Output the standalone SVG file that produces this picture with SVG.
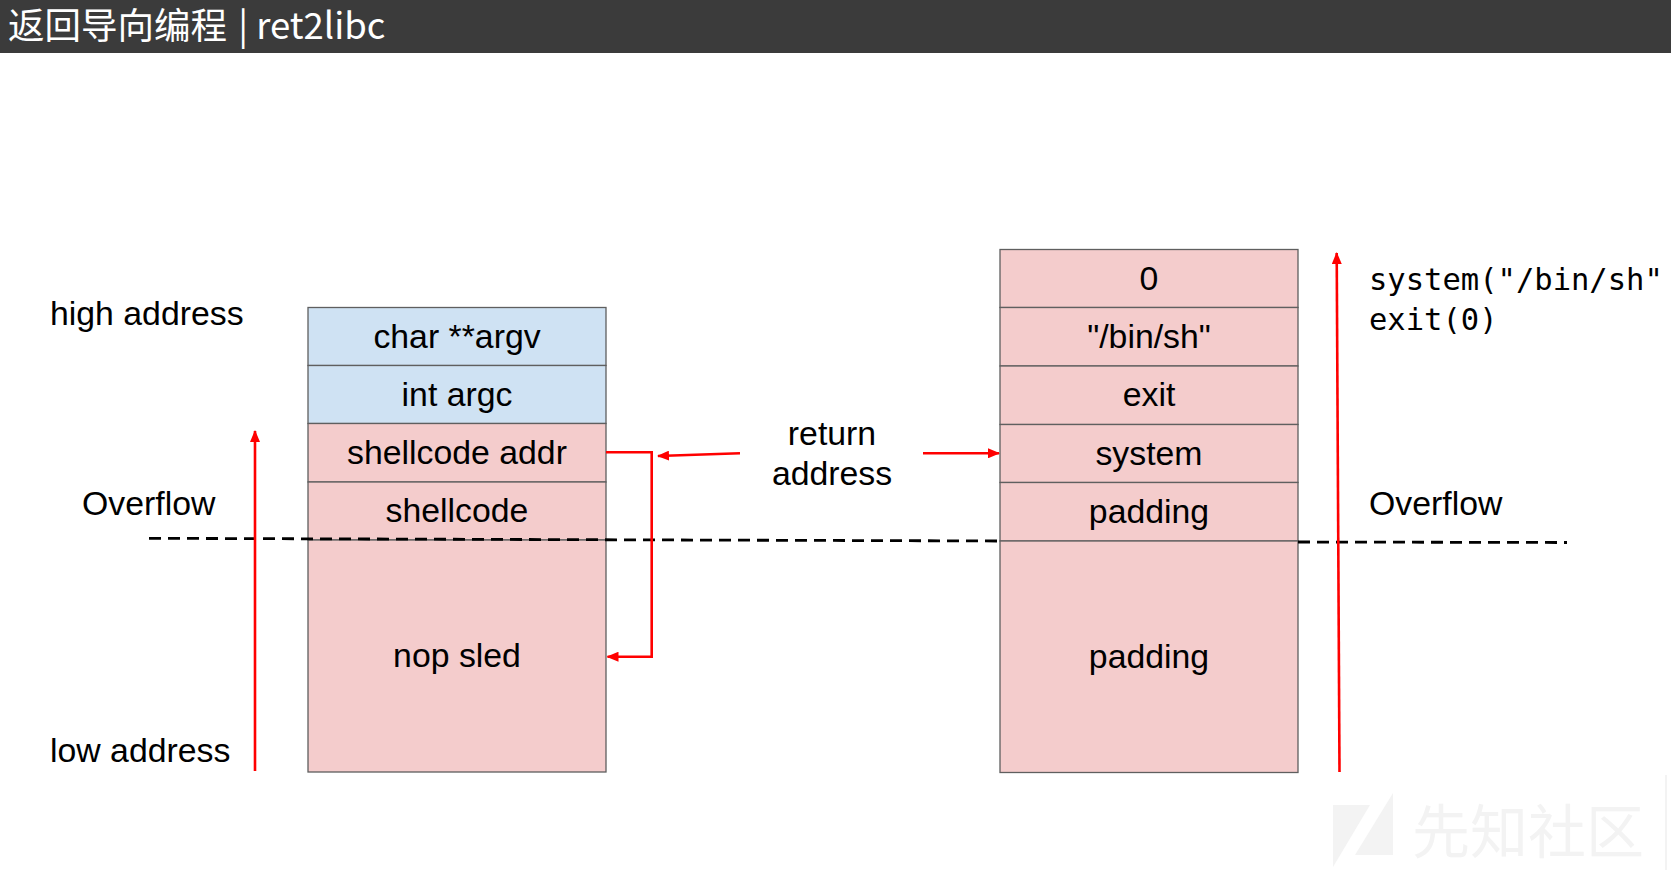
<svg xmlns="http://www.w3.org/2000/svg" width="1671" height="874" viewBox="0 0 1671 874">
<style>
.t{font-family:"Liberation Sans",Arial,sans-serif;font-size:33.8px;fill:#000}
.c{text-anchor:middle}
.m{font-family:"DejaVu Sans Mono","Liberation Mono",monospace;font-size:30.5px;fill:#000}
.blue{fill:#cfe2f3;stroke:#5f5f5f;stroke-width:1.3}
.pink{fill:#f4cccc;stroke:#5f5f5f;stroke-width:1.3}
.red{fill:none;stroke:#ff0000;stroke-width:2.6}
.dash{fill:none;stroke:#000;stroke-width:2.8;stroke-dasharray:12 7}
</style>
<defs>
<marker id="ah" markerWidth="12" markerHeight="10" refX="11" refY="5" orient="auto" markerUnits="userSpaceOnUse">
<path d="M0,0 L12,5 L0,10 Z" fill="#ff0000"/>
</marker>
</defs>
<rect x="0" y="0" width="1671" height="874" fill="#ffffff"/>
<g id="title">
<rect x="0" y="0" width="1671" height="53" fill="#3b3b3b"/>
<text x="8" y="39" style="font-family:'Noto Sans CJK SC','Noto Sans',sans-serif;font-size:36.5px;fill:#ffffff">返回导向编程 <tspan dx="3">|</tspan> ret2libc</text>
</g>
<g id="watermark" fill="#f3f3f3">
<polygon points="1333,805 1370,805 1333,867"/>
<polygon points="1393,793 1393,855 1355,855"/>
<text x="1412" y="853" style="font-family:'Noto Sans CJK SC',sans-serif;font-size:58px;fill:#f3f3f3">先知社区</text>
<rect x="1665" y="775" width="2" height="95"/>
</g>
<g id="left-labels">
<text class="t" x="50" y="325">high address</text>
<text class="t" x="82" y="515">Overflow</text>
<text class="t" x="50" y="762">low address</text>
</g>
<g id="left-stack">
<g id="argv"><rect class="blue" x="308" y="307.5" width="298" height="58"/><text class="t c" x="457" y="348">char **argv</text></g>
<g id="argc"><rect class="blue" x="308" y="365.5" width="298" height="58"/><text class="t c" x="457" y="406">int argc</text></g>
<g id="shellcode-addr"><rect class="pink" x="308" y="423.5" width="298" height="58.5"/><text class="t c" x="457" y="464">shellcode addr</text></g>
<g id="shellcode"><rect class="pink" x="308" y="482" width="298" height="58"/><text class="t c" x="457" y="522">shellcode</text></g>
<g id="nop-sled"><rect class="pink" x="308" y="540" width="298" height="232"/><text class="t c" x="457" y="667">nop sled</text></g>
</g>
<g id="return-address">
<text class="t c" x="832" y="445">return</text>
<text class="t c" x="832" y="485">address</text>
</g>
<g id="right-stack">
<g id="zero"><rect class="pink" x="1000" y="249.5" width="298" height="58"/><text class="t c" x="1149" y="290">0</text></g>
<g id="binsh"><rect class="pink" x="1000" y="307.5" width="298" height="58.5"/><text class="t c" x="1149" y="348">"/bin/sh"</text></g>
<g id="exit"><rect class="pink" x="1000" y="366" width="298" height="58.5"/><text class="t c" x="1149" y="406">exit</text></g>
<g id="system"><rect class="pink" x="1000" y="424.5" width="298" height="58"/><text class="t c" x="1149" y="465">system</text></g>
<g id="padding1"><rect class="pink" x="1000" y="482.5" width="298" height="58.5"/><text class="t c" x="1149" y="523">padding</text></g>
<g id="padding2"><rect class="pink" x="1000" y="541" width="298" height="231.5"/><text class="t c" x="1149" y="668">padding</text></g>
</g>
<g id="right-labels">
<text class="m" x="1369" y="290">system("/bin/sh"</text>
<text class="m" x="1369" y="330">exit(0)</text>
<text class="t" x="1369" y="515">Overflow</text>
</g>
<g id="connectors">
<line class="dash" x1="149" y1="538.3" x2="1000" y2="541"/>
<line class="dash" x1="1298" y1="542" x2="1567" y2="542.5"/>
<line class="red" x1="255" y1="771" x2="255" y2="431" marker-end="url(#ah)"/>
<line class="red" x1="1339.5" y1="772" x2="1336.7" y2="253" marker-end="url(#ah)"/>
<line class="red" x1="740" y1="453.3" x2="658" y2="456" marker-end="url(#ah)"/>
<line class="red" x1="923" y1="453.3" x2="999" y2="453.3" marker-end="url(#ah)"/>
<polyline class="red" points="606,452.3 651.7,452.3 651.7,656.7 607.5,656.7" marker-end="url(#ah)"/>
</g>
</svg>
